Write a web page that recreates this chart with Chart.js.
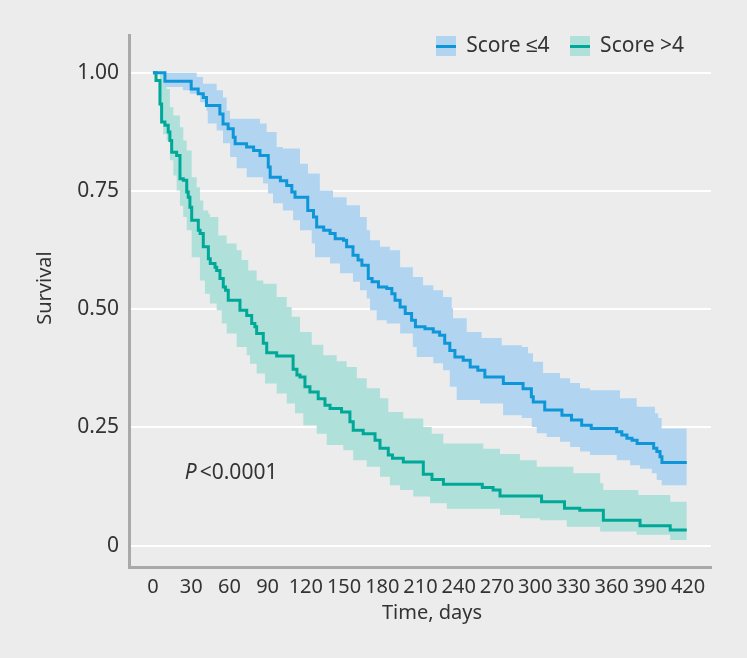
<!DOCTYPE html>
<html>
<head>
<meta charset="utf-8">
<script src="https://cdn.jsdelivr.net/npm/chart.js@4"></script>
<style>
  html, body { margin: 0; padding: 0; background: #ebeceb; }
  canvas { display: block; }
</style>
</head>
<body>
<canvas id="kmChart" width="747" height="658"></canvas>
<script>
// Kaplan-Meier curves, values (days, survival)
const lowDays = [0, 9.4, 30, 35.5, 39.5, 42, 52.5, 55, 59, 63, 64.5, 73.5, 79, 84, 90.5, 92, 100, 105, 109, 111.5, 121.5, 126, 128.5, 134, 139, 143, 149.5, 152, 157, 161, 164, 169, 172, 177, 183.5, 187.5, 190, 194, 198, 203, 206, 213.5, 220, 225, 229, 233, 237, 243.5, 249, 255, 260.5, 275, 290.5, 297, 298.5, 307.5, 321, 328.5, 336.5, 344, 364, 368, 372, 376, 380, 393, 395.5, 398, 399.5, 419];
const lowSurv = [1.0, 0.982, 0.966, 0.956, 0.948, 0.931, 0.913, 0.892, 0.882, 0.864, 0.850, 0.843, 0.836, 0.825, 0.801, 0.779, 0.772, 0.762, 0.748, 0.737, 0.709, 0.695, 0.674, 0.667, 0.660, 0.649, 0.646, 0.632, 0.614, 0.604, 0.593, 0.565, 0.558, 0.547, 0.544, 0.533, 0.519, 0.505, 0.491, 0.477, 0.463, 0.459, 0.452, 0.445, 0.428, 0.413, 0.399, 0.392, 0.378, 0.371, 0.357, 0.343, 0.332, 0.315, 0.304, 0.287, 0.276, 0.266, 0.255, 0.248, 0.241, 0.234, 0.227, 0.223, 0.216, 0.206, 0.199, 0.188, 0.176, 0.176];

const lowUpperDays = [0, 30, 34.3, 39.3, 50, 55, 57.9, 60.5, 84, 89.3, 97.1, 102, 115.4, 121.7, 131, 141.3, 152, 162.5, 167.8, 170.4, 178.2, 186, 194, 204, 212, 220, 227.7, 234.5, 235.5, 246.3, 258, 273.7, 289.5, 294.4, 298.3, 306.2, 319.5, 327.4, 335.2, 343, 366.6, 379.7, 394, 396.5, 399.3, 419];
const lowUpperSurv = [1.0, 1.0, 0.991, 0.977, 0.963, 0.948, 0.920, 0.903, 0.893, 0.875, 0.843, 0.840, 0.808, 0.787, 0.751, 0.737, 0.720, 0.695, 0.667, 0.646, 0.632, 0.625, 0.589, 0.568, 0.551, 0.540, 0.526, 0.502, 0.481, 0.452, 0.439, 0.424, 0.420, 0.407, 0.389, 0.365, 0.354, 0.344, 0.333, 0.329, 0.312, 0.294, 0.280, 0.270, 0.248, 0.248];

const lowLowerDays = [0, 9.4, 23.5, 29, 37, 42, 43, 50, 55, 60.5, 65.7, 73.6, 86.4, 90.3, 94.2, 102, 110, 115.4, 124.6, 127.2, 139, 146.8, 157, 162.5, 167.8, 170.4, 175.6, 183.5, 194, 204, 207, 220, 227.7, 233, 238.4, 256.7, 274.8, 289.5, 297.3, 301.2, 309, 319.5, 327.4, 335.2, 343, 364, 374.5, 382.3, 391.5, 395.4, 399.3, 419];
const lowLowerSurv = [1.0, 0.970, 0.963, 0.956, 0.938, 0.920, 0.893, 0.878, 0.851, 0.822, 0.798, 0.779, 0.766, 0.745, 0.724, 0.709, 0.688, 0.667, 0.639, 0.610, 0.597, 0.576, 0.558, 0.540, 0.523, 0.498, 0.477, 0.470, 0.449, 0.420, 0.399, 0.386, 0.371, 0.336, 0.308, 0.301, 0.276, 0.270, 0.251, 0.238, 0.230, 0.220, 0.209, 0.199, 0.192, 0.181, 0.170, 0.163, 0.153, 0.139, 0.128, 0.128];

const highDays = [0, 2.4, 5.5, 6.8, 9.4, 12, 13.3, 14.7, 18.6, 21.2, 23.8, 26.5, 27.7, 29, 30.4, 35.6, 37, 39.5, 43.5, 45, 48.7, 50, 52.6, 55.2, 57, 59.1, 68.3, 73.6, 77.5, 80, 81.4, 86.6, 89.3, 97.1, 110, 113, 115.4, 119.3, 123.2, 129.7, 135, 139, 148, 154.6, 157.2, 165, 174.3, 178.2, 184.7, 188, 196.5, 212.2, 219, 228, 258.5, 267, 272.4, 305, 323, 335, 353.5, 382.3, 406, 419];
const highSurv = [1.0, 0.984, 0.934, 0.896, 0.889, 0.875, 0.857, 0.832, 0.825, 0.776, 0.773, 0.748, 0.737, 0.716, 0.688, 0.667, 0.660, 0.632, 0.607, 0.597, 0.589, 0.582, 0.565, 0.547, 0.540, 0.519, 0.498, 0.487, 0.470, 0.463, 0.449, 0.428, 0.408, 0.401, 0.373, 0.361, 0.357, 0.336, 0.325, 0.311, 0.297, 0.290, 0.283, 0.262, 0.244, 0.237, 0.223, 0.206, 0.192, 0.185, 0.177, 0.151, 0.140, 0.130, 0.123, 0.118, 0.105, 0.093, 0.079, 0.075, 0.054, 0.042, 0.033, 0.033];

const highUpperDays = [0, 10.8, 13.3, 16, 21.2, 23.8, 26.5, 30.4, 34.3, 36.9, 39.5, 43.4, 44.7, 51.3, 57.9, 65.7, 69.6, 74.8, 81.4, 86.6, 97.1, 105, 108.9, 115.4, 124.6, 133.7, 144.2, 152, 160, 167.8, 178.2, 184.7, 196.5, 212.2, 218.8, 227.9, 259.3, 272.4, 288, 301.2, 330, 351, 353.5, 381, 406, 419];
const highUpperSurv = [1.0, 0.966, 0.927, 0.910, 0.885, 0.857, 0.836, 0.779, 0.758, 0.730, 0.709, 0.702, 0.695, 0.656, 0.639, 0.625, 0.604, 0.582, 0.561, 0.554, 0.526, 0.505, 0.484, 0.452, 0.425, 0.403, 0.390, 0.378, 0.354, 0.333, 0.312, 0.283, 0.269, 0.251, 0.237, 0.216, 0.205, 0.194, 0.181, 0.167, 0.153, 0.132, 0.118, 0.107, 0.093, 0.093];

const highLowerDays = [0, 5.5, 8, 10.8, 13.3, 16, 18.6, 21.2, 23.8, 26.5, 30.4, 36.9, 40.8, 44.7, 50, 54, 57.9, 65.7, 73.6, 76.2, 81.4, 87.9, 97.1, 105, 111.5, 118, 128.5, 136.4, 149.4, 157.2, 167.8, 178.2, 186, 194, 204.3, 217.5, 230.6, 272.4, 288, 303.8, 324.8, 351, 379.7, 406, 419];
const highLowerSurv = [1.0, 0.900, 0.870, 0.857, 0.815, 0.783, 0.751, 0.719, 0.695, 0.667, 0.610, 0.561, 0.533, 0.512, 0.498, 0.470, 0.449, 0.420, 0.403, 0.385, 0.364, 0.343, 0.322, 0.301, 0.280, 0.255, 0.237, 0.213, 0.202, 0.181, 0.167, 0.146, 0.128, 0.118, 0.104, 0.090, 0.078, 0.065, 0.058, 0.054, 0.040, 0.030, 0.023, 0.012, 0.012];

const seriesNames = ['Score \u22644', 'Score >4'];
const xTickValues = [0, 30, 60, 90, 120, 150, 180, 210, 240, 270, 300, 330, 360, 390, 420];
const yTickValues = [0, 0.25, 0.5, 0.75, 1];
const yTickLabels = ['0', '0.25', '0.50', '0.75', '1.00'];
const pValueText = '<0.0001';

const blueLine = '#0e96d8', blueBand = '#b1d5f1';
const tealLine = '#00a897', tealBand = '#b0e0da';
const textColor = '#333333';
const axisColor = '#a9a9a9';

const pts = (xs, ys) => xs.map((x, i) => ({ x: x, y: ys[i] }));

function swatch(fill, line) {
  const c = document.createElement('canvas');
  c.width = 20; c.height = 20;
  const g = c.getContext('2d');
  g.fillStyle = fill; g.fillRect(0, 0, 20, 20);
  g.fillStyle = line; g.fillRect(0, 9, 20, 3);
  return c;
}
const swatches = [swatch(blueBand, blueLine), swatch(tealBand, tealLine)];

Chart.defaults.font.family = '"Noto Sans", sans-serif';
Chart.defaults.font.size = 20;
Chart.defaults.color = textColor;

// legend sits inside the plot area, so it takes no layout height
const legendInside = {
  id: 'legendInside',
  beforeLayout(chart) {
    const lg = chart.legend;
    if (lg && !lg._flat) {
      const fit = lg.fit.bind(lg);
      lg.fit = function () { fit(); this.height = 0; };
      lg._flat = true;
    }
  },
  afterLayout(chart) {
    const lg = chart.legend;
    lg.top = 15.5; lg.bottom = 80;
    lg.right = 704;
  }
};

// axis titles in the figure sit a little off the plot centre
const titleNudge = {
  id: 'titleNudge',
  afterLayout(chart) {
    const shifts = { x: [12, 0], y: [0, -13] };
    Object.keys(shifts).forEach((id) => {
      const s = chart.scales[id];
      if (s._nudged) return;
      const draw = s.drawTitle.bind(s);
      s.drawTitle = function () {
        this.ctx.save();
        this.ctx.translate(shifts[id][0], shifts[id][1]);
        draw();
        this.ctx.restore();
      };
      s._nudged = true;
    });
  }
};

const pValueNote = {
  id: 'pValueNote',
  afterDatasetsDraw(chart) {
    const { ctx, scales } = chart;
    const px = scales.x.getPixelForValue(25);
    const py = scales.y.getPixelForValue(0.153);
    ctx.save();
    ctx.fillStyle = textColor;
    ctx.textBaseline = 'middle';
    ctx.font = 'italic 21px "Noto Sans"';
    ctx.fillText('P', px, py);
    const w = ctx.measureText('P').width;
    ctx.font = '21px "Noto Sans"';
    ctx.fillText(pValueText, px + w + 3, py);
    ctx.restore();
  }
};

const stepLine = (data, color) => ({
  data: data, borderColor: color, borderWidth: 3, stepped: 'before',
  pointRadius: 0, fill: false, tension: 0
});
const bandEdge = (data, color, fill) => ({
  data: data, borderColor: 'transparent', borderWidth: 0, backgroundColor: color,
  stepped: 'before', pointRadius: 0, fill: fill, tension: 0
});

new Chart(document.getElementById('kmChart'), {
  type: 'line',
  data: {
    datasets: [
      stepLine(pts(lowDays, lowSurv), blueLine),
      stepLine(pts(highDays, highSurv), tealLine),
      bandEdge(pts(lowUpperDays, lowUpperSurv), blueBand, '+1'),
      bandEdge(pts(lowLowerDays, lowLowerSurv), blueBand, false),
      bandEdge(pts(highUpperDays, highUpperSurv), tealBand, '+1'),
      bandEdge(pts(highLowerDays, highLowerSurv), tealBand, false)
    ]
  },
  options: {
    responsive: false,
    animation: false,
    layout: { autoPadding: false, padding: { left: 0, top: 35, right: 36, bottom: 0 } },
    plugins: {
      tooltip: { enabled: false },
      legend: {
        position: 'top',
        align: 'end',
        labels: {
          usePointStyle: true,
          boxWidth: 20,
          boxHeight: 20,
          padding: 20,
          color: textColor,
          font: { size: 21 },
          generateLabels: () => seriesNames.map((name, i) => ({
            text: name,
            pointStyle: swatches[i],
            fillStyle: 'transparent',
            strokeStyle: 'transparent',
            lineWidth: 0,
            fontColor: textColor,
            hidden: false,
            datasetIndex: i
          }))
        }
      }
    },
    scales: {
      x: {
        type: 'linear',
        min: -18.8,
        max: 438,
        afterBuildTicks: (s) => { s.ticks = xTickValues.map(v => ({ value: v })); },
        afterFit: (s) => { s.height = 91; },
        grid: { display: false, drawTicks: false },
        border: { display: true, color: axisColor, width: 3 },
        ticks: { padding: 8, color: textColor, maxRotation: 0, autoSkip: false, font: { size: 20 } },
        title: { display: true, text: 'Time, days', color: textColor, padding: { top: 0, bottom: 33 } }
      },
      y: {
        min: -0.045,
        max: 1.08,
        afterBuildTicks: (s) => { s.ticks = yTickValues.map(v => ({ value: v })); },
        afterFit: (s) => { s.width = 129; },
        grid: { color: '#ffffff', lineWidth: 2, drawTicks: false },
        border: { display: true, color: axisColor, width: 3 },
        ticks: {
          padding: 10,
          color: textColor,
          font: { size: 21 },
          callback: (v) => yTickLabels[yTickValues.indexOf(v)]
        },
        title: { display: true, text: 'Survival', color: textColor, padding: { top: 33, bottom: 0 } }
      }
    }
  },
  plugins: [legendInside, titleNudge, pValueNote]
});
</script>
</body>
</html>
